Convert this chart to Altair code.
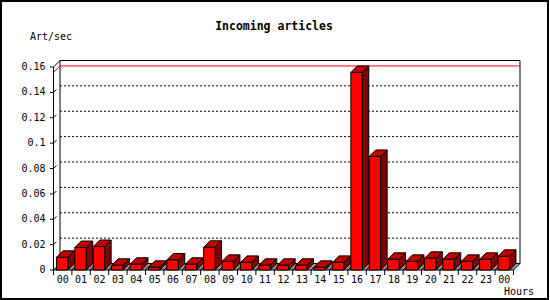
import altair as alt
import pandas as pd

# ---------------- data ----------------
hours = ["00", "01", "02", "03", "04", "05", "06", "07", "08", "09", "10", "11",
         "12", "13", "14", "15", "16", "17", "18", "19", "20", "21", "22", "23", "00"]
rates = [0.0100, 0.0177, 0.0185, 0.0037, 0.0045, 0.0021, 0.0079, 0.0045, 0.0179,
         0.0068, 0.0060, 0.0037, 0.0037, 0.0037, 0.0021, 0.0060, 0.1557, 0.0895,
         0.0084, 0.0068, 0.0092, 0.0084, 0.0068, 0.0084, 0.0108]
y_ticks = [0, 0.02, 0.04, 0.06, 0.08, 0.1, 0.12, 0.14, 0.16]
y_tick_labels = ["0", "0.02", "0.04", "0.06", "0.08", "0.1", "0.12", "0.14", "0.16"]
grid_values = [0.02, 0.04, 0.06, 0.08, 0.1, 0.12, 0.14]
title_text = "Incoming articles"
y_title = "Art/sec"
x_title = "Hours"

# ---------------- geometry (page pixels) ----------------
PAD = 1
X_LEFT, X_RIGHT = 53.5, 513.5
Y_BOTTOM, Y_TOP = 270.0, 67.0
DEPTH = 6.5
YMAX = 0.16
n = len(hours)
px_x = (X_RIGHT - X_LEFT) / n
px_y = (Y_BOTTOM - Y_TOP) / YMAX
dxu = DEPTH / px_x
dyu = DEPTH / px_y
BAR_L, BAR_R = 0.16, 0.78

def xd(px):
    return (px - X_LEFT) / px_x

def yd(py):
    return (Y_BOTTOM - py) / px_y

xs = alt.Scale(domain=[0, n], range=[X_LEFT - PAD, X_RIGHT - PAD], nice=False, zero=False)
ys = alt.Scale(domain=[0, YMAX], range=[Y_BOTTOM - PAD, Y_TOP - PAD], nice=False, zero=False)

def X(f):
    return alt.X(f, type="quantitative", scale=xs, axis=None)

def Y(f):
    return alt.Y(f, type="quantitative", scale=ys, axis=None)

FONT = "DejaVu Sans Mono"

# ---------------- tables ----------------
wall = pd.DataFrame({"x": [dxu], "x2": [n + dxu], "y": [dyu], "y2": [YMAX + dyu]})
grid = pd.DataFrame({"g": grid_values})
grid["x"] = dxu
grid["x2"] = n + dxu
grid["yb"] = grid["g"] + dyu
grid["xs"] = 0.0
grid["xe"] = dxu * 0.45
grid["ye"] = grid["g"] + dyu * 0.45

m = max(rates)
edges = pd.DataFrame({
    "x": [0, 0], "y": [0, YMAX], "x2": [0, dxu], "y2": [YMAX, YMAX + dyu]})
maxline = pd.DataFrame({
    "x": [dxu, 0], "y": [m + dyu, m], "x2": [n + dxu, dxu], "y2": [m + dyu, m + dyu]})

floor_rows = []
side_rows = []
top_rows = []
front_rows = []
for i, v in enumerate(rates):
    floor_rows.append({"k": i, "y": 0.0, "x": i, "x2": i + 1})
    floor_rows.append({"k": i, "y": dyu, "x": i + dxu, "x2": i + 1 + dxu})
    xl, xr = i + BAR_L, i + BAR_R
    side_rows.append({"k": i, "x": xr, "y": v, "y2": 0.0})
    side_rows.append({"k": i, "x": xr + dxu, "y": v + dyu, "y2": dyu})
    top_rows.append({"k": i, "y": v, "x": xl, "x2": xr})
    top_rows.append({"k": i, "y": v + dyu, "x": xl + dxu, "x2": xr + dxu})
    front_rows.append({"x": xl, "x2": xr, "y": 0.0, "y2": v})
floor = pd.DataFrame(floor_rows)
side = pd.DataFrame(side_rows)
top = pd.DataFrame(top_rows)
front = pd.DataFrame(front_rows)

yt = pd.DataFrame({"v": y_ticks, "lab": y_tick_labels})
yt["x"] = xd(50.0)
yt["x2"] = 0.0
yt["lx"] = xd(45.5)

xt = pd.DataFrame({"b": list(range(n + 1))})
xt["y"] = 0.0
xt["y2"] = yd(275.0)

xl_df = pd.DataFrame({"h": hours})
xl_df["x"] = [i + 0.5 for i in range(n)]
xl_df["y"] = yd(279.5)

one = pd.DataFrame({"a": [0]})

# ---------------- layers ----------------
back_wall = alt.Chart(wall).mark_rect(fill="white", stroke="black", strokeWidth=1).encode(
    x=X("x"), x2="x2", y=Y("y"), y2="y2")

grid_lines = alt.Chart(grid).mark_rule(color="black", strokeWidth=1, strokeDash=[2, 2]).encode(
    x=X("x"), x2="x2", y=Y("yb"))

wall_marks = alt.Chart(grid).mark_rule(color="black", strokeWidth=1).encode(
    x=X("xs"), x2="xe", y=Y("g"), y2="ye")

edge_lines = alt.Chart(edges).mark_rule(color="black", strokeWidth=1).encode(
    x=X("x"), x2="x2", y=Y("y"), y2="y2")

max_lines = alt.Chart(maxline).mark_rule(color="#ff0000", strokeWidth=1).encode(
    x=X("x"), x2="x2", y=Y("y"), y2="y2")

floor_l = alt.Chart(floor).mark_area(orient="horizontal", fill="#999999", stroke="black",
                                     strokeWidth=1, opacity=1).encode(
    y=Y("y"), x=X("x"), x2="x2", detail="k:N")

side_l = alt.Chart(side).mark_area(fill="#800000", stroke="black", strokeWidth=1,
                                   opacity=1).encode(
    x=X("x"), y=Y("y"), y2="y2", detail="k:N")

top_l = alt.Chart(top).mark_area(orient="horizontal", fill="#c00000", stroke="black",
                                 strokeWidth=1, opacity=1).encode(
    y=Y("y"), x=X("x"), x2="x2", detail="k:N")

front_l = alt.Chart(front).mark_rect(fill="#ff0000", stroke="black", strokeWidth=1).encode(
    x=X("x"), x2="x2", y=Y("y"), y2="y2")

ytick_l = alt.Chart(yt).mark_rule(color="black", strokeWidth=1).encode(
    x=X("x"), x2="x2", y=Y("v"))

ylab_l = alt.Chart(yt).mark_text(font=FONT, fontSize=10, align="right", baseline="middle",
                                 color="black").encode(
    x=X("lx"), y=Y("v"), text="lab:N")

xtick_l = alt.Chart(xt).mark_rule(color="black", strokeWidth=1).encode(
    x=X("b"), y=Y("y"), y2="y2")

xlab_l = alt.Chart(xl_df).mark_text(font=FONT, fontSize=10, align="center", baseline="middle",
                                    color="black").encode(
    x=X("x"), y=Y("y"), text="h:N")

title_l = alt.Chart(one).mark_text(font=FONT, fontSize=11.5, fontWeight="bold", align="center",
                                   baseline="middle", color="black", text=title_text).encode(
    x=alt.value(274 - PAD), y=alt.value(27 - PAD))

ytitle_l = alt.Chart(one).mark_text(font=FONT, fontSize=10, align="left", baseline="middle",
                                    color="black", text=y_title).encode(
    x=alt.value(30 - PAD), y=alt.value(37 - PAD))

xtitle_l = alt.Chart(one).mark_text(font=FONT, fontSize=10, align="left", baseline="middle",
                                    color="black", text=x_title).encode(
    x=alt.value(504 - PAD), y=alt.value(291.5 - PAD))

chart = alt.layer(
    back_wall, grid_lines, wall_marks, edge_lines, max_lines, floor_l,
    side_l, top_l, front_l, ytick_l, ylab_l, xtick_l, xlab_l,
    title_l, ytitle_l, xtitle_l,
).properties(
    width=547, height=298,
    padding={"left": PAD, "top": PAD, "right": 2, "bottom": 1},
    autosize=alt.AutoSizeParams(type="none"),
    background="white",
).configure_view(stroke="black", strokeWidth=2)

chart.save("out.html", embed_options={"renderer": "svg", "actions": False})
